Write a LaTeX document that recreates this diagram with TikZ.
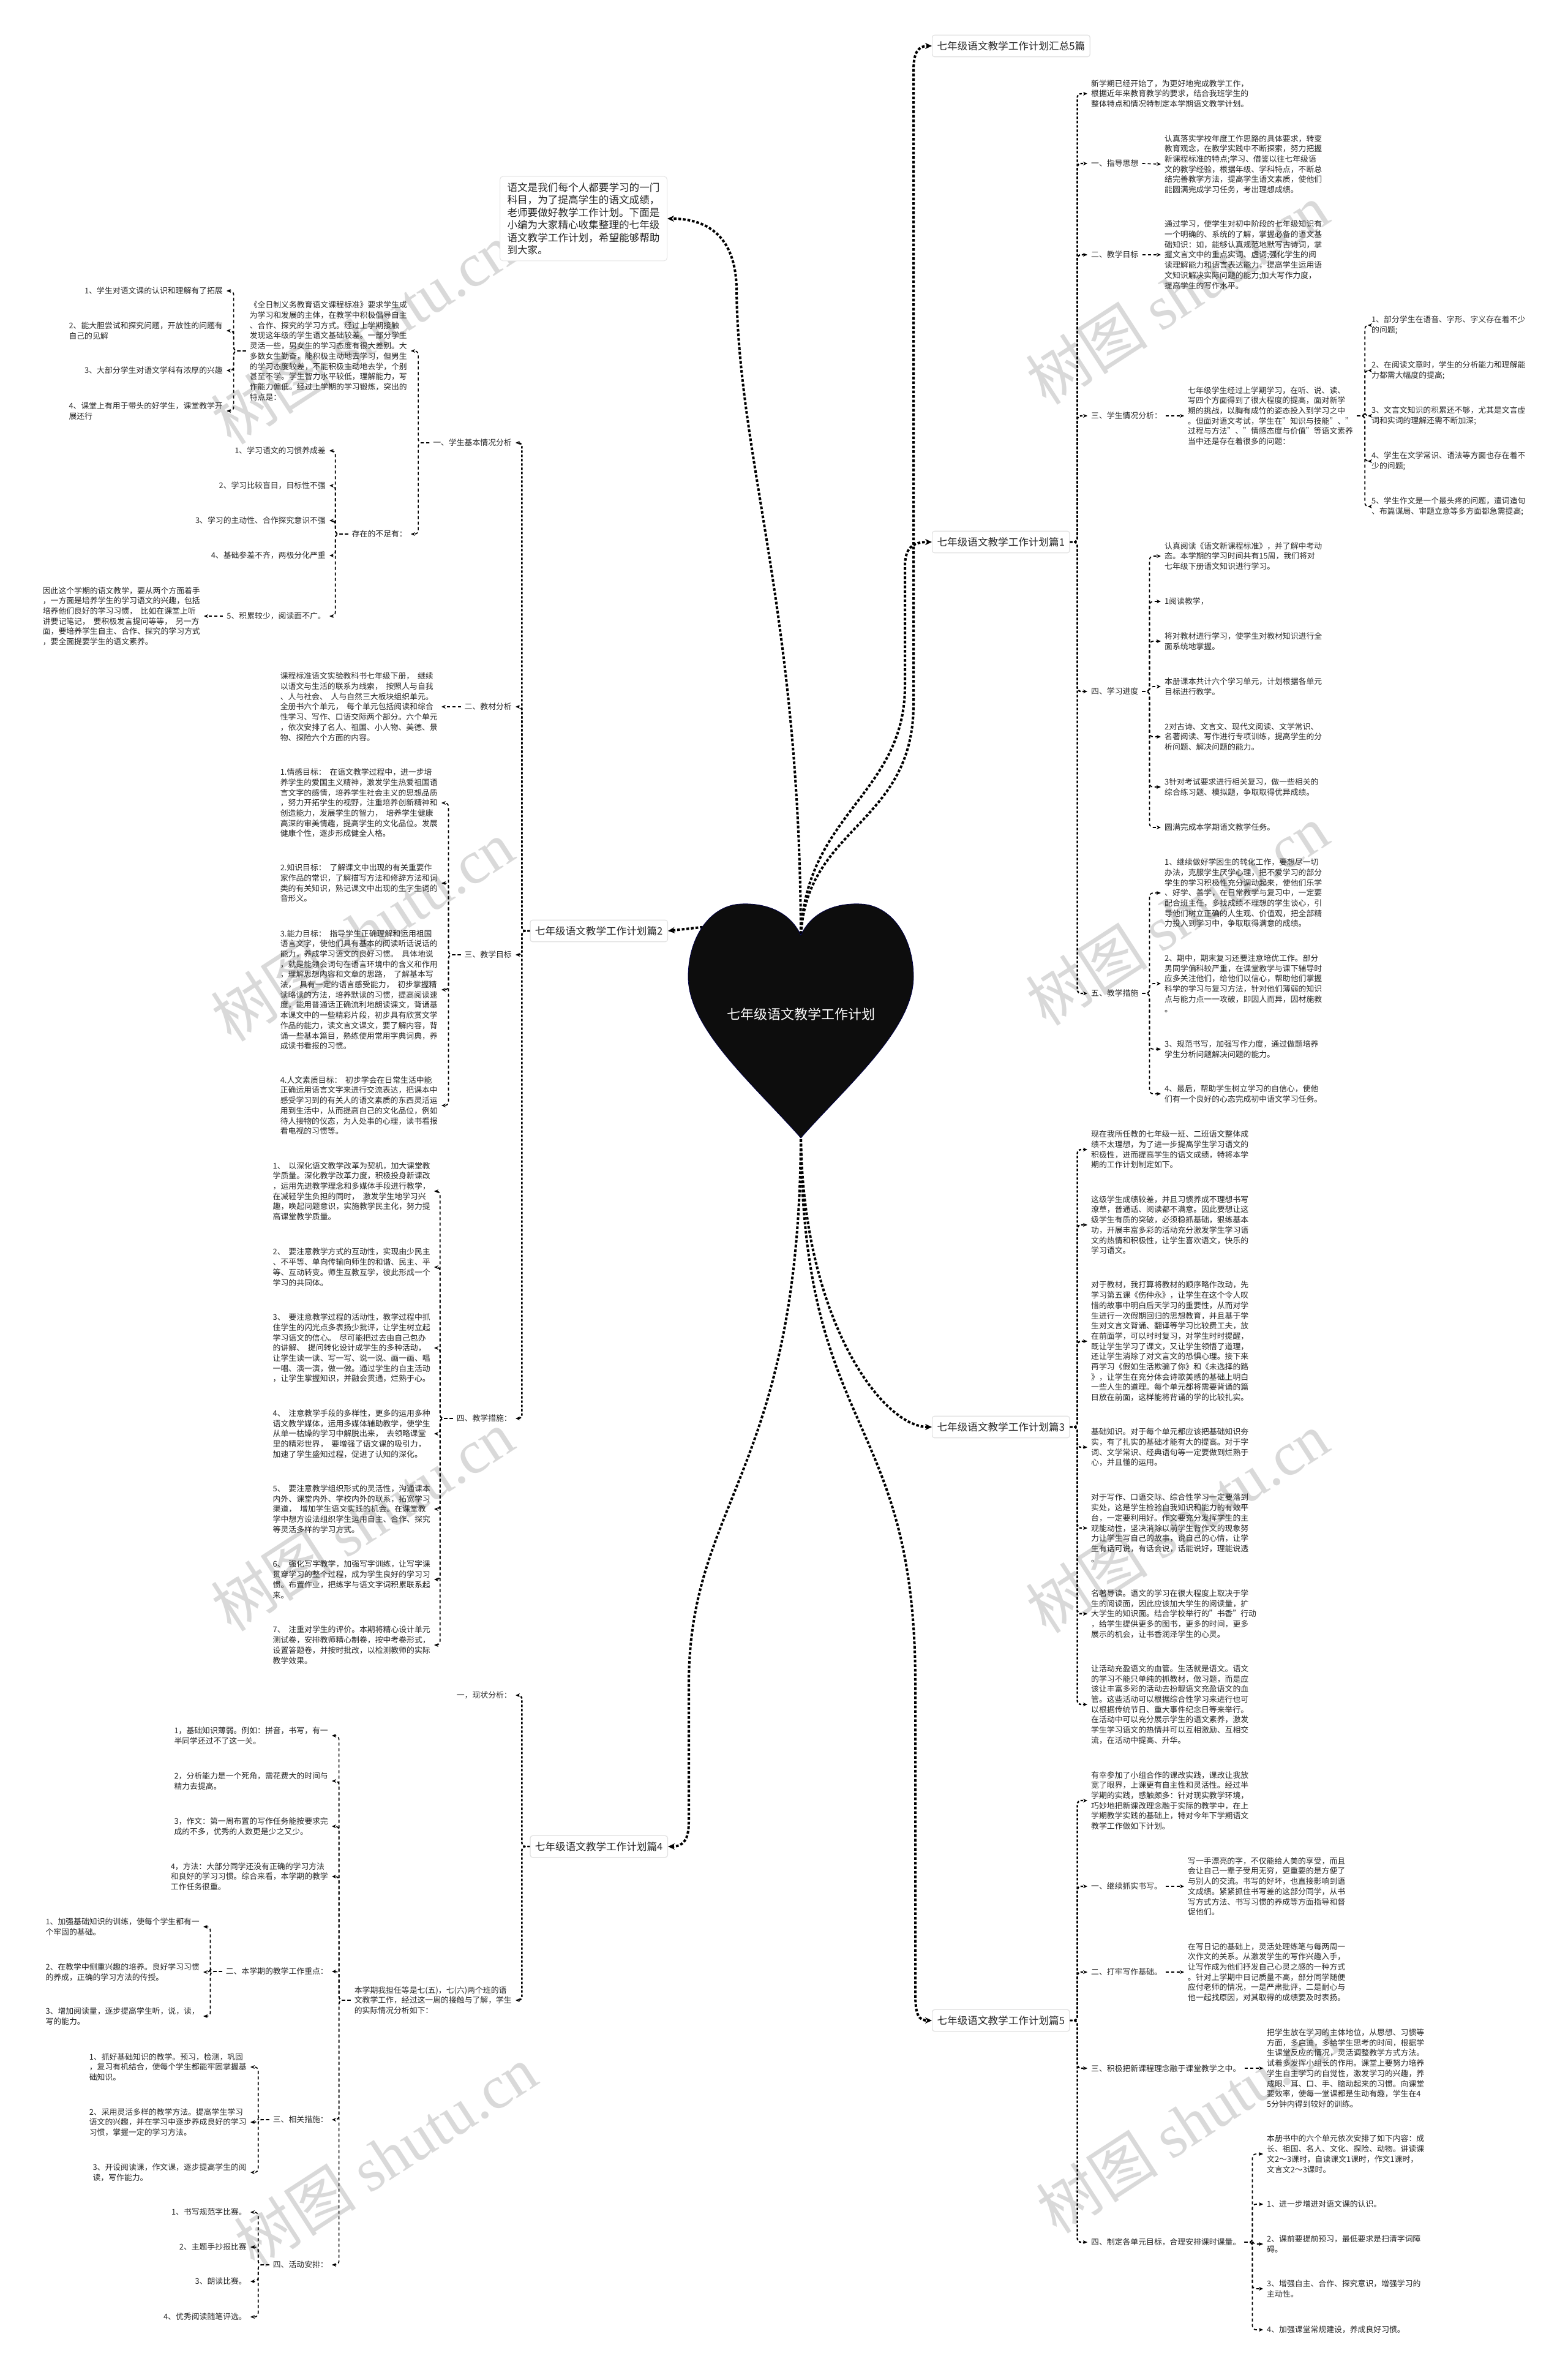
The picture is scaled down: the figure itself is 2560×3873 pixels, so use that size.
\documentclass[tikz,border=0pt]{standalone}
\usepackage{fontspec}
\setmainfont{Noto Sans CJK SC}
\newfontfamily\wmlatin{Liberation Serif}
\usetikzlibrary{arrows.meta}
\newcommand\gsp{\hspace{0.45em}}
\tikzset{
  txt/.style={align=left, inner xsep=6pt, inner ysep=2pt, text=black!85, font=\fontsize{12.85}{16.7}\selectfont},
  rt/.style={txt, anchor=west},
  lt/.style={txt, anchor=east},
  mainbox/.style={draw=black!12, fill=white, rounded corners=4pt, line width=1.2pt, inner xsep=8pt, inner ysep=10pt, text=black!85, font=\fontsize{16.6}{20}\selectfont},
  introbox/.style={draw=black!10, fill=white, rounded corners=5pt, line width=1pt, inner xsep=12pt, inner ysep=10pt, align=left, text=black!85, font=\fontsize{16.6}{20.5}\selectfont},
  trunk/.style={line width=4pt, dash pattern=on 4.5pt off 3pt, -{Stealth[length=11pt,width=10pt]}},
  lonec/.style={line width=2.4pt, dash pattern=on 4pt off 3pt, rounded corners=6pt, -{Stealth[length=7pt,width=6pt]}},
  subc/.style={line width=1.7pt, dash pattern=on 5pt off 4pt, rounded corners=6pt, -{Stealth[length=7pt,width=6pt]}},
  wm/.style={rotate=33, text=black!15, font=\fontsize{100}{100}\selectfont, inner sep=0pt},
}
\begin{document}
\begin{tikzpicture}[x=1pt,y=-1pt]
\useasboundingbox (0,0) rectangle (2560,3873);
\fill[white] (0,0) rectangle (2560,3873);

% watermarks
\foreach \p in {(592,545),(1923,480),(592,1520),(1923,1494),(592,2483),(1923,2486),(630,3520),(1940,3465)}
  \node[wm] at \p {树图 {\wmlatin shutu.cn}};

% ---------- main boxes ----------
\node[mainbox, anchor=west] (B0) at (1522,75) {七年级语文教学工作计划汇总5篇};
\node[mainbox, anchor=west] (B1) at (1522,885) {七年级语文教学工作计划篇1};
\node[mainbox, anchor=east] (B2) at (1091,1520) {七年级语文教学工作计划篇2};
\node[mainbox, anchor=west] (B3) at (1522,2330) {七年级语文教学工作计划篇3};
\node[mainbox, anchor=east] (B4) at (1091,3015) {七年级语文教学工作计划篇4};
\node[mainbox, anchor=west] (B5) at (1522,3299) {七年级语文教学工作计划篇5};
\node[introbox, anchor=east] (intro) at (1090,357) {语文是我们每个人都要学习的一门\\科目，为了提高学生的语文成绩，\\老师要做好教学工作计划。下面是\\小编为大家精心收集整理的七年级\\语文教学工作计划，希望能够帮助\\到大家。};

% ---------- trunk ----------
\coordinate (hN) at (1308,1540);
\coordinate (hT) at (1308,1845);
\coordinate (hL) at (1200,1508);
\draw[trunk] (hN) .. controls (1308,1350) and (1492,1350) .. (1492,1150) -- (1492,115) .. controls (1492,85) and (1500,75) .. (B0.west);
\draw[trunk] (hN) .. controls (1308,1330) and (1478,1300) .. (1478,1120) -- (1478,925) .. controls (1478,895) and (1490,885) .. (B1.west);
\draw[trunk] (hN) .. controls (1308,1000) and (1205,750) .. (1203,470) .. controls (1201,390) and (1160,357) .. (intro.east);
\draw[trunk] (hL) -- (B2.east);
\draw[trunk] (hT) .. controls (1308,2150) and (1440,2330) .. (B3.west);
\draw[trunk] (hT) .. controls (1308,2350) and (1495,2300) .. (1495,2750) -- (1495,3255) .. controls (1495,3290) and (1500,3299) .. (B5.west);
\draw[trunk] (hT) .. controls (1308,2400) and (1125,2450) .. (1125,2750) -- (1125,2975) .. controls (1125,3005) and (1115,3015) .. (B4.east);

% heart
\filldraw[fill=black!95, draw=blue!30!black, line width=0.8pt] (1308,1527)
 .. controls (1290,1488) and (1250,1474) .. (1210,1476)
 .. controls (1160,1478) and (1124,1530) .. (1124,1595)
 .. controls (1124,1680) and (1230,1770) .. (1308,1858)
 .. controls (1386,1770) and (1492,1680) .. (1492,1595)
 .. controls (1492,1530) and (1456,1478) .. (1406,1476)
 .. controls (1366,1474) and (1326,1488) .. (1308,1527) -- cycle;
\node[text=white, font=\fontsize{22}{26}\selectfont] (heart) at (1308,1656) {七年级语文教学工作计划};

% ---------- 篇1 ----------
\node[rt] (r1intro) at (1776,153) {新学期已经开始了，为更好地完成教学工作，\\根据近年来教育教学的要求，结合我班学生的\\整体特点和情况特制定本学期语文教学计划。};
\node[rt] (r1a) at (1776,267) {一、指导思想};
\node[rt] (r1ab) at (1896,268) {认真落实学校年度工作思路的具体要求，转变\\教育观念，在教学实践中不断探索，努力把握\\新课程标准的特点;学习、借鉴以往七年级语\\文的教学经验，根据年级、学科特点，不断总\\结完善教学方法，提高学生语文素质，使他们\\能圆满完成学习任务，考出理想成绩。};
\node[rt] (r1b) at (1776,416) {二、教学目标};
\node[rt] (r1bb) at (1896,416) {通过学习，使学生对初中阶段的七年级知识有\\一个明确的、系统的了解，掌握必备的语文基\\础知识：如，能够认真规范地默写古诗词，掌\\握文言文中的重点实词、虚词;强化学生的阅\\读理解能力和语言表达能力，提高学生运用语\\文知识解决实际问题的能力;加大写作力度，\\提高学生的写作水平。};
\node[rt] (r1c) at (1776,679) {三、学生情况分析：};
\node[rt] (r1cb) at (1934,679) {七年级学生经过上学期学习，在听、说、读、\\写四个方面得到了很大程度的提高，面对新学\\期的挑战，以胸有成竹的姿态投入到学习之中\\。但面对语文考试，学生在"知识与技能"、"\\过程与方法"、"情感态度与价值"等语文素养\\当中还是存在着很多的问题：};
\node[rt] (r1c1) at (2234,531) {1、部分学生在语音、字形、字义存在着不少\\的问题;};
\node[rt] (r1c2) at (2234,605) {2、在阅读文章时，学生的分析能力和理解能\\力都需大幅度的提高;};
\node[rt] (r1c3) at (2234,679) {3、文言文知识的积累还不够，尤其是文言虚\\词和实词的理解还需不断加深;};
\node[rt] (r1c4) at (2234,753) {4、学生在文学常识、语法等方面也存在着不\\少的问题;};
\node[rt] (r1c5) at (2234,827) {5、学生作文是一个最头疼的问题，遣词造句\\、布篇谋局、审题立意等多方面都急需提高;};
\node[rt] (r1d) at (1776,1129) {四、学习进度};
\node[rt] (r1d1) at (1896,908) {认真阅读《语文新课程标准》，并了解中考动\\态。本学期的学习时间共有15周，我们将对\\七年级下册语文知识进行学习。};
\node[rt] (r1d2) at (1896,982) {1阅读教学，};
\node[rt] (r1d3) at (1896,1047) {将对教材进行学习，使学生对教材知识进行全\\面系统地掌握。};
\node[rt] (r1d4) at (1896,1121) {本册课本共计六个学习单元，计划根据各单元\\目标进行教学。};
\node[rt] (r1d5) at (1896,1203) {2对古诗、文言文、现代文阅读、文学常识、\\名著阅读、写作进行专项训练，提高学生的分\\析问题、解决问题的能力。};
\node[rt] (r1d6) at (1896,1285) {3针对考试要求进行相关复习，做一些相关的\\综合练习题、模拟题，争取取得优异成绩。};
\node[rt] (r1d7) at (1896,1351) {圆满完成本学期语文教学任务。};
\node[rt] (r1e) at (1776,1622) {五、教学措施};
\node[rt] (r1e1) at (1896,1458) {1、继续做好学困生的转化工作，要想尽一切\\办法，克服学生厌学心理，把不爱学习的部分\\学生的学习积极性充分调动起来，使他们乐学\\、好学、善学，在日常教学与复习中，一定要\\配合班主任，多找成绩不理想的学生谈心，引\\导他们树立正确的人生观、价值观，把全部精\\力投入到学习中，争取取得满意的成绩。};
\node[rt] (r1e2) at (1896,1606) {2、期中，期末复习还要注意培优工作。部分\\男同学偏科较严重，在课堂教学与课下辅导时\\应多关注他们，给他们以信心，帮助他们掌握\\科学的学习与复习方法，针对他们薄弱的知识\\点与能力点一一攻破，即因人而异，因材施教\\。};
\node[rt] (r1e3) at (1896,1713) {3、规范书写，加强写作力度，通过做题培养\\学生分析问题解决问题的能力。};
\node[rt] (r1e4) at (1896,1786) {4、最后，帮助学生树立学习的自信心，使他\\们有一个良好的心态完成初中语文学习任务。};

\foreach \c in {r1intro,r1a,r1b,r1c,r1d,r1e} \draw[lonec] (B1.east) -- ++(12,0) |- (\c.west);
\draw[subc] (r1a.east) -- (r1ab.west);
\draw[subc] (r1b.east) -- (r1bb.west);
\draw[subc] (r1c.east) -- (r1cb.west);
\foreach \c in {r1c1,r1c2,r1c3,r1c4,r1c5} \draw[subc] (r1cb.east) -- ++(13,0) |- (\c.west);
\foreach \c in {r1d1,r1d2,r1d3,r1d4,r1d5,r1d6,r1d7} \draw[subc] (r1d.east) -- ++(12,0) |- (\c.west);
\foreach \c in {r1e1,r1e2,r1e3,r1e4} \draw[subc] (r1e.east) -- ++(12,0) |- (\c.west);

% ---------- 篇3 ----------
\node[rt] (r3a) at (1776,1877) {现在我所任教的七年级一班、二班语文整体成\\绩不太理想，为了进一步提高学生学习语文的\\积极性，进而提高学生的语文成绩，特将本学\\期的工作计划制定如下。};
\node[rt] (r3b) at (1776,2000) {这级学生成绩较差，并且习惯养成不理想书写\\潦草，普通话、阅读都不满意。因此要想让这\\级学生有质的突破，必须稳抓基础，狠练基本\\功，开展丰富多彩的活动充分激发学生学习语\\文的热情和积极性，让学生喜欢语文，快乐的\\学习语文。};
\node[rt] (r3c) at (1776,2190) {对于教材，我打算将教材的顺序略作改动，先\\学习第五课《伤仲永》，让学生在这个令人叹\\惜的故事中明白后天学习的重要性，从而对学\\生进行一次假期回归的思想教育，并且基于学\\生对文言文背诵、翻译等学习比较费工夫，放\\在前面学，可以时时复习，对学生时时提醒，\\既让学生学习了课文，又让学生领悟了道理，\\还让学生消除了对文言文的恐惧心理。接下来\\再学习《假如生活欺骗了你》和《未选择的路\\》，让学生在充分体会诗歌美感的基础上明白\\一些人生的道理。每个单元都将需要背诵的篇\\目放在前面，这样能将背诵的学的比较扎实。};
\node[rt] (r3d) at (1776,2363) {基础知识。对于每个单元都应该把基础知识夯\\实，有了扎实的基础才能有大的提高。对于字\\词、文学常识、经典语句等一定要做到烂熟于\\心，并且懂的运用。};
\node[rt] (r3e) at (1776,2495) {对于写作、口语交际、综合性学习一定要落到\\实处，这是学生检验自我知识和能力的有效平\\台，一定要利用好。作文要充分发挥学生的主\\观能动性，坚决消除以前学生背作文的现象努\\力让学生写自己的故事，说自己的心情，让学\\生有话可说，有话会说，话能说好，理能说透\\。};
\node[rt] (r3f) at (1776,2635) {名著导读。语文的学习在很大程度上取决于学\\生的阅读面，因此应该加大学生的阅读量，扩\\大学生的知识面。结合学校举行的"书香"行动\\，给学生提供更多的图书，更多的时间，更多\\展示的机会，让书香润泽学生的心灵。};
\node[rt] (r3g) at (1776,2783) {让活动充盈语文的血管。生活就是语文。语文\\的学习不能只单纯的抓教材，做习题，而是应\\该让丰富多彩的活动去扮靓语文充盈语文的血\\管。这些活动可以根据综合性学习来进行也可\\以根据传统节日、重大事件纪念日等来举行。\\在活动中可以充分展示学生的语文素养，激发\\学生学习语文的热情并可以互相激励、互相交\\流，在活动中提高、升华。};
\foreach \c in {r3a,r3b,r3c,r3d,r3e,r3f,r3g} \draw[lonec] (B3.east) -- ++(12,0) |- (\c.west);

% ---------- 篇5 ----------
\node[rt] (r5a) at (1776,2940) {有幸参加了小组合作的课改实践，课改让我放\\宽了眼界，上课更有自主性和灵活性。经过半\\学期的实践，感触颇多：针对现实教学环境，\\巧妙地把新课改理念融于实际的教学中，在上\\学期教学实践的基础上，特对今年下学期语文\\教学工作做如下计划。};
\node[rt] (r5b) at (1776,3080) {一、继续抓实书写。};
\node[rt] (r5bb) at (1934,3080) {写一手漂亮的字，不仅能给人美的享受，而且\\会让自己一辈子受用无穷，更重要的是方便了\\与别人的交流。书写的好坏，也直接影响到语\\文成绩。紧紧抓住书写差的这部分同学，从书\\写方式方法、书写习惯的养成等方面指导和督\\促他们。};
\node[rt] (r5c) at (1776,3220) {二、打牢写作基础。};
\node[rt] (r5cb) at (1934,3220) {在写日记的基础上，灵活处理练笔与每两周一\\次作文的关系。从激发学生的写作兴趣入手，\\让写作成为他们抒发自己心灵之感的一种方式\\。针对上学期中日记质量不高，部分同学随便\\应付老师的情况，一是严肃批评，二是耐心与\\他一起找原因，对其取得的成绩要及时表扬。};
\node[rt] (r5d) at (1776,3377) {三、积极把新课程理念融于课堂教学之中。};
\node[rt] (r5db) at (2063,3377) {把学生放在学习的主体地位，从思想、习惯等\\方面，多启迪，多给学生思考的时间，根据学\\生课堂反应的情况，灵活调整教学方式方法。\\试着多发挥小组长的作用。课堂上要努力培养\\学生自主学习的自觉性，激发学习的兴趣，养\\成眼、耳、口、手、脑动起来的习惯。向课堂\\要效率，使每一堂课都是生动有趣，学生在4\\5分钟内得到较好的训练。};
\node[rt] (r5e) at (1776,3661) {四、制定各单元目标，合理安排课时课量。};
\node[rt] (r5e1) at (2063,3517) {本册书中的六个单元依次安排了如下内容：成\\长、祖国、名人、文化、探险、动物。讲读课\\文2～3课时，自读课文1课时，作文1课时，\\文言文2～3课时。};
\node[rt] (r5e2) at (2063,3599) {1、进一步增进对语文课的认识。};
\node[rt] (r5e3) at (2063,3664) {2、课前要提前预习，最低要求是扫清字词障\\碍。};
\node[rt] (r5e4) at (2063,3737) {3、增强自主、合作、探究意识，增强学习的\\主动性。};
\node[rt] (r5e5) at (2063,3804) {4、加强课堂常规建设，养成良好习惯。};
\foreach \c in {r5a,r5b,r5c,r5d,r5e} \draw[lonec] (B5.east) -- ++(12,0) |- (\c.west);
\draw[subc] (r5b.east) -- (r5bb.west);
\draw[subc] (r5c.east) -- (r5cb.west);
\draw[subc] (r5d.east) -- (r5db.west);
\foreach \c in {r5e1,r5e2,r5e3,r5e4,r5e5} \draw[subc] (r5e.east) -- ++(13,0) |- (\c.west);

% ---------- 篇2 ----------
\node[lt] (l2a) at (842,723) {一、学生基本情况分析};
\node[lt] (l2a1) at (671,573) {《全日制义务教育语文课程标准》要求学生成\\为学习和发展的主体，在教学中积极倡导自主\\、合作、探究的学习方式。经过上学期接触\\发现这年级的学生语文基础较差。一部分学生\\灵活一些，男女生的学习态度有很大差别。大\\多数女生勤奋，能积极主动地去学习，但男生\\的学习态度较差，不能积极主动地去学，个别\\甚至不学。学生智力水平较低，理解能力，写\\作能力偏低。经过上学期的学习锻炼，突出的\\特点是：};
\node[lt] (l2a1a) at (370,475) {1、学生对语文课的认识和理解有了拓展};
\node[lt] (l2a1b) at (370,540) {2、能大胆尝试和探究问题，开放性的问题有\\自己的见解};
\node[lt] (l2a1c) at (370,605) {3、大部分学生对语文学科有浓厚的兴趣};
\node[lt] (l2a1d) at (370,671) {4、课堂上有用于带头的好学生，课堂教学开\\展还行};
\node[lt] (l2a2) at (671,872) {存在的不足有：};
\node[lt] (l2a2a) at (538,736) {1、学习语文的习惯养成差};
\node[lt] (l2a2b) at (538,793) {2、学习比较盲目，目标性不强};
\node[lt] (l2a2c) at (538,850) {3、学习的主动性、合作探究意识不强};
\node[lt] (l2a2d) at (538,907) {4、基础参差不齐，两极分化严重};
\node[lt] (l2a2e) at (538,1006) {5、积累较少，阅读面不广。};
\node[lt] (l2a2f) at (333,1006) {因此这个学期的语文教学，要从两个方面着手\\，一方面是培养学生的学习语文的兴趣，包括\\培养他们良好的学习习惯，\gsp 比如在课堂上听\\讲要记笔记，\gsp 要积极发言提问等等，\gsp 另一方\\面，要培养学生自主、合作、探究的学习方式\\，要全面提要学生的语文素养。};
\node[lt] (l2b) at (842,1154) {二、教材分析};
\node[lt] (l2bb) at (721,1154) {课程标准语文实验教科书七年级下册，\gsp 继续\\以语文与生活的联系为线索，\gsp 按照人与自我\\、人与社会、\gsp 人与自然三大板块组织单元。\\全册书六个单元，\gsp 每个单元包括阅读和综合\\性学习、写作、口语交际两个部分。六个单元\\，依次安排了名人、祖国、小人物、美德、景\\物、探险六个方面的内容。};
\node[lt] (l2c) at (842,1559) {三、教学目标};
\node[lt] (l2c1) at (721,1311) {1.情感目标：\gsp 在语文教学过程中，进一步培\\养学生的爱国主义精神，激发学生热爱祖国语\\言文字的感情，培养学生社会主义的思想品质\\，努力开拓学生的视野，注重培养创新精神和\\创造能力，发展学生的智力，\gsp 培养学生健康\\高深的审美情趣，提高学生的文化品位。发展\\健康个性，逐步形成健全人格。};
\node[lt] (l2c2) at (721,1442) {2.知识目标：\gsp 了解课文中出现的有关重要作\\家作品的常识，了解描写方法和修辞方法和词\\类的有关知识，熟记课文中出现的生字生词的\\音形义。};
\node[lt] (l2c3) at (721,1616) {3.能力目标：\gsp 指导学生正确理解和运用祖国\\语言文字，使他们具有基本的阅读听话说话的\\能力，养成学习语文的良好习惯。\gsp 具体地说\\，就是能领会词句在语言环境中的含义和作用\\，理解思想内容和文章的思路，\gsp 了解基本写\\法，\gsp 具有一定的语言感受能力，\gsp 初步掌握精\\读略读的方法，培养默读的习惯，提高阅读速\\度，能用普通话正确流利地朗读课文，背诵基\\本课文中的一些精彩片段，初步具有欣赏文学\\作品的能力，读文言文课文，要了解内容，背\\诵一些基本篇目，熟练使用常用字典词典，养\\成读书看报的习惯。};
\node[lt] (l2c4) at (721,1805) {4.人文素质目标：\gsp 初步学会在日常生活中能\\正确运用语言文字来进行交流表达，把课本中\\感受学习到的有关人的语文素质的东西灵活运\\用到生活中，从而提高自己的文化品位，例如\\待人接物的仪态，为人处事的心理，读书看报\\看电视的习惯等。};
\node[lt] (l2d) at (842,2316) {四、教学措施：};
\node[lt] (l2d1) at (709,1945) {1、\gsp 以深化语文教学改革为契机，加大课堂教\\学质量。深化教学改革力度，积极投身新课改\\，运用先进教学理念和多媒体手段进行教学，\\在减轻学生负担的同时，\gsp 激发学生地学习兴\\趣，唤起问题意识，实施教学民主化，努力提\\高课堂教学质量。};
\node[lt] (l2d2) at (709,2069) {2、\gsp 要注意教学方式的互动性，实现由少民主\\、不平等、单向传输向师生的和谐、民主、平\\等、互动转变。师生互教互学，彼此形成一个\\学习的共同体。};
\node[lt] (l2d3) at (709,2201) {3、\gsp 要注意教学过程的活动性，教学过程中抓\\住学生的闪光点多表扬少批评，让学生树立起\\学习语文的信心。\gsp 尽可能把过去由自己包办\\的讲解、\gsp 提问转化设计成学生的多种活动，\\让学生读一读、写一写、说一说、画一画、唱\\一唱、演一演，做一做。通过学生的自主活动\\，让学生掌握知识，并融会贯通，烂熟于心。};
\node[lt] (l2d4) at (709,2341) {4、\gsp 注意教学手段的多样性，更多的运用多种\\语文教学媒体，运用多媒体辅助教学，使学生\\从单一枯燥的学习中解脱出来，\gsp 去领略课堂\\里的精彩世界，\gsp 要增强了语文课的吸引力，\\加速了学生盛知过程，促进了认知的深化。};
\node[lt] (l2d5) at (709,2464) {5、\gsp 要注意教学组织形式的灵活性，沟通课本\\内外、课堂内外、学校内外的联系，拓宽学习\\渠道，\gsp 增加学生语文实践的机会。在课堂教\\学中想方设法组织学生运用自主、合作、探究\\等灵活多样的学习方式。};
\node[lt] (l2d6) at (709,2579) {6、\gsp 强化写字教学，加强写字训练，让写字课\\贯穿学习的整个过程，成为学生良好的学习习\\惯。布置作业，把练字与语文字词积累联系起\\来。};
\node[lt] (l2d7) at (709,2686) {7、\gsp 注重对学生的评价。本期将精心设计单元\\测试卷，安排教师精心制卷，按中考卷形式，\\设置答题卷，并按时批改，以检测教师的实际\\教学效果。};

\foreach \c in {l2a,l2b,l2c,l2d} \draw[lonec] (B2.west) -- ++(-13,0) |- (\c.east);
\foreach \c in {l2a1,l2a2} \draw[subc] (l2a.west) -- ++(-18,0) |- (\c.east);
\foreach \c in {l2a1a,l2a1b,l2a1c,l2a1d} \draw[subc] (l2a1.west) -- ++(-20,0) |- (\c.east);
\foreach \c in {l2a2a,l2a2b,l2a2c,l2a2d,l2a2e} \draw[subc] (l2a2.west) -- ++(-21,0) |- (\c.east);
\draw[subc] (l2a2e.west) -- (l2a2f.east);
\draw[subc] (l2b.west) -- (l2bb.east);
\foreach \c in {l2c1,l2c2,l2c3,l2c4} \draw[subc] (l2c.west) -- ++(-20,0) |- (\c.east);
\foreach \c in {l2d1,l2d2,l2d3,l2d4,l2d5,l2d6,l2d7} \draw[subc] (l2d.west) -- ++(-21,0) |- (\c.east);

% ---------- 篇4 ----------
\node[lt] (l4a) at (842,2768) {一，现状分析：};
\node[lt] (l4b) at (842,3266) {本学期我担任等是七(五)，七(六)两个班的语\\文教学工作，经过这一周的接触与了解，学生\\的实际情况分析如下：};
\node[lt] (l4b1) at (542,2834) {1，基础知识薄弱。例如：拼音，书写，有一\\半同学还过不了这一关。};
\node[lt] (l4b2) at (542,2908) {2，分析能力是一个死角，需花费大的时间与\\精力去提高。};
\node[lt] (l4b3) at (542,2982) {3，作文：第一周布置的写作任务能按要求完\\成的不多，优秀的人数更是少之又少。};
\node[lt] (l4b4) at (542,3064) {4，方法：大部分同学还没有正确的学习方法\\和良好的学习习惯。综合来看，本学期的教学\\工作任务很重。};
\node[lt] (l4c) at (542,3219) {二、本学期的教学工作重点：};
\node[lt] (l4c1) at (332,3146) {1、加强基础知识的训练，使每个学生都有一\\个牢固的基础。};
\node[lt] (l4c2) at (332,3220) {2、在教学中侧重兴趣的培养。良好学习习惯\\的养成，正确的学习方法的传授。};
\node[lt] (l4c3) at (332,3292) {3、增加阅读量，逐步提高学生听，说，读，\\写的能力。};
\node[lt] (l4d) at (542,3461) {三、相关措施：};
\node[lt] (l4d1) at (409,3375) {1、抓好基础知识的教学。预习，检测，巩固\\，复习有机结合，使每个学生都能牢固掌握基\\础知识。};
\node[lt] (l4d2) at (409,3465) {2、采用灵活多样的教学方法。提高学生学习\\语文的兴趣，并在学习中逐步养成良好的学习\\习惯，掌握一定的学习方法。};
\node[lt] (l4d3) at (409,3547) {3、开设阅读课，作文课，逐步提高学生的阅\\读，写作能力。};
\node[lt] (l4e) at (542,3698) {四、活动安排：};
\node[lt] (l4e1) at (409,3612) {1、书写规范字比赛。};
\node[lt] (l4e2) at (409,3669) {2、主题手抄报比赛};
\node[lt] (l4e3) at (409,3725) {3、朗读比赛。};
\node[lt] (l4e4) at (409,3783) {4、优秀阅读随笔评选。};

\foreach \c in {l4a,l4b} \draw[lonec] (B4.west) -- ++(-13,0) |- (\c.east);
\foreach \c in {l4b1,l4b2,l4b3,l4b4,l4c,l4d,l4e} \draw[subc] (l4b.west) -- ++(-19,0) |- (\c.east);
\foreach \c in {l4c1,l4c2,l4c3} \draw[subc] (l4c.west) -- ++(-19,0) |- (\c.east);
\foreach \c in {l4d1,l4d2,l4d3} \draw[subc] (l4d.west) -- ++(-18,0) |- (\c.east);
\foreach \c in {l4e1,l4e2,l4e3,l4e4} \draw[subc] (l4e.west) -- ++(-18,0) |- (\c.east);
\end{tikzpicture}
\end{document}
